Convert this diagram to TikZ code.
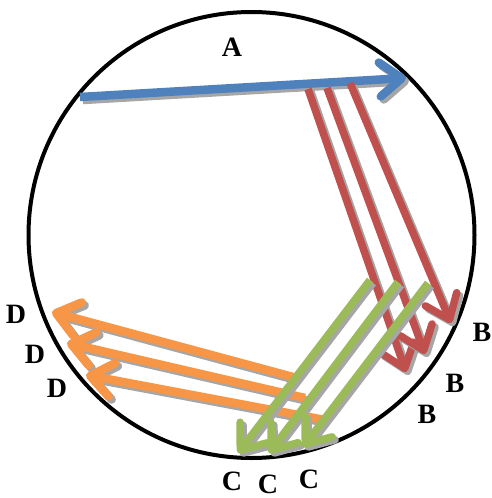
\documentclass[tikz,border=0pt]{standalone}
\usepackage{fontspec}
\setmainfont{Liberation Serif}
\usetikzlibrary{arrows.meta}
\definecolor{cblue}{HTML}{4F81BD}
\definecolor{cred}{HTML}{C0504D}
\definecolor{cgreen}{HTML}{9BBB59}
\definecolor{corange}{HTML}{F79646}
\definecolor{cshadow}{HTML}{A6A6A6}
\tikzset{
  arr/.style={line width=#1, -{Straight Barb[length=22pt,width=34pt,line width=0pt 1,round]}},
  lbl/.style={font=\bfseries\fontsize{28}{28}\selectfont, inner sep=0pt},
}
\newcommand{\shadowarrow}[4]{%
  \draw[arr=#4, draw=cshadow] ([xshift=3pt,yshift=-3pt]#1) -- ([xshift=3pt,yshift=-3pt]#2);
  \draw[arr=#4, draw=#3] (#1) -- (#2);
}
\begin{document}
\begin{tikzpicture}[x=1pt,y=-1pt]
\useasboundingbox (0,0) rectangle (491,498);
\node[circle, draw=black, line width=4pt, minimum size=446pt, inner sep=0pt] (ring) at (251.5,235) {};
% coordinates
\coordinate (a0) at (80,97); \coordinate (a1) at (406,78);
\coordinate (b1s) at (308,89); \coordinate (b1e) at (406,372);
\coordinate (b2s) at (327,88); \coordinate (b2e) at (425,354);
\coordinate (b3s) at (350,83); \coordinate (b3e) at (451,323);
\coordinate (c1s) at (370,280); \coordinate (c1e) at (238,453);
\coordinate (c2s) at (398,282); \coordinate (c2e) at (269,453);
\coordinate (c3s) at (428,283); \coordinate (c3e) at (303,447);
\coordinate (d1s) at (293,377); \coordinate (d1e) at (52,312);
\coordinate (d2s) at (305,398); \coordinate (d2e) at (67,343);
\coordinate (d3s) at (325,420); \coordinate (d3e) at (86,375);
% arrows
\shadowarrow{a0}{a1}{cblue}{8.5pt}
\shadowarrow{b1s}{b1e}{cred}{7.5pt}
\shadowarrow{b2s}{b2e}{cred}{7.5pt}
\shadowarrow{b3s}{b3e}{cred}{7.5pt}
\shadowarrow{d1s}{d1e}{corange}{8.5pt}
\shadowarrow{d2s}{d2e}{corange}{8.5pt}
\shadowarrow{d3s}{d3e}{corange}{8.5pt}
\shadowarrow{c1s}{c1e}{cgreen}{7.5pt}
\shadowarrow{c2s}{c2e}{cgreen}{7.5pt}
\shadowarrow{c3s}{c3e}{cgreen}{7.5pt}
% labels
\node[lbl] (la) at (232,47) {A};
\node[lbl] (lb1) at (482,332) {B};
\node[lbl] (lb2) at (455,383) {B};
\node[lbl] (lb3) at (427,414) {B};
\node[lbl] (lc1) at (232,481) {C};
\node[lbl] (lc2) at (268,484) {C};
\node[lbl] (lc3) at (309,479) {C};
\node[lbl] (ld1) at (16,314) {D};
\node[lbl] (ld2) at (35,354) {D};
\node[lbl] (ld3) at (57,388) {D};
\end{tikzpicture}
\end{document}
